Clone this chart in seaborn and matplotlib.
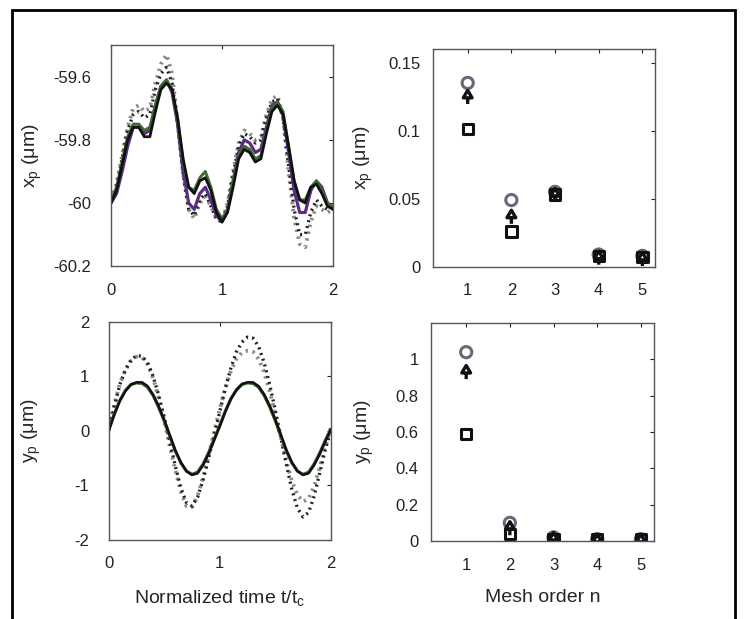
import numpy as np
import pandas as pd
import seaborn as sns
import matplotlib
matplotlib.use("Agg")
import matplotlib.pyplot as plt
from matplotlib.path import Path
from matplotlib.patches import Rectangle
from matplotlib.ticker import FormatStrFormatter

# normalized time grid t/tc (read every 0.05)
t = np.round(np.arange(0, 2.0001, 0.05), 2)

# x_p (um) traces
xp_black = [-60.00, -59.96, -59.88, -59.80, -59.76, -59.76, -59.79, -59.79, -59.71, -59.64,
            -59.62, -59.64, -59.73, -59.86, -59.95, -59.97, -59.93, -59.92, -59.96, -60.03,
            -60.06, -60.03, -59.95, -59.86, -59.83, -59.84, -59.87, -59.86, -59.78, -59.71,
            -59.69, -59.72, -59.82, -59.93, -59.99, -60.00, -59.95, -59.94, -59.97, -60.01, -60.02]
xp_purple = [-60.00, -59.97, -59.90, -59.82, -59.76, -59.76, -59.78, -59.77, -59.69, -59.63,
             -59.61, -59.65, -59.75, -59.90, -60.00, -60.02, -59.97, -59.95, -59.99, -60.04,
             -60.06, -60.02, -59.93, -59.84, -59.80, -59.81, -59.84, -59.83, -59.76, -59.69,
             -59.68, -59.72, -59.84, -59.96, -60.03, -60.03, -59.96, -59.93, -59.95, -60.00, -60.02]
xp_green = [-59.99, -59.95, -59.87, -59.79, -59.75, -59.75, -59.77, -59.76, -59.69, -59.63,
            -59.61, -59.64, -59.74, -59.87, -59.95, -59.96, -59.92, -59.90, -59.95, -60.02,
            -60.05, -60.02, -59.93, -59.85, -59.82, -59.83, -59.86, -59.85, -59.77, -59.70,
            -59.68, -59.71, -59.82, -59.93, -59.99, -59.99, -59.95, -59.93, -59.96, -60.00, -60.01]
xp_dot_black = [-60.00, -59.95, -59.86, -59.77, -59.72, -59.71, -59.73, -59.72, -59.64, -59.59,
                -59.57, -59.62, -59.75, -59.91, -60.02, -60.04, -59.99, -59.97, -60.01, -60.05,
                -60.06, -60.01, -59.91, -59.82, -59.78, -59.79, -59.81, -59.80, -59.73, -59.68,
                -59.67, -59.73, -59.88, -60.02, -60.10, -60.10, -60.03, -59.99, -60.01, -60.02, -60.01]
xp_dot_grey = [-59.99, -59.94, -59.85, -59.76, -59.70, -59.69, -59.71, -59.70, -59.62, -59.56,
               -59.53, -59.59, -59.74, -59.91, -60.02, -60.05, -60.00, -59.98, -60.01, -60.05,
               -60.06, -60.00, -59.90, -59.81, -59.77, -59.78, -59.80, -59.79, -59.72, -59.67,
               -59.66, -59.73, -59.90, -60.05, -60.13, -60.14, -60.06, -60.01, -60.02, -60.03, -60.02]

# y_p (um) traces
yp_black = [0.00, 0.30, 0.55, 0.73, 0.85, 0.89, 0.89, 0.82, 0.66, 0.45,
            0.20, -0.08, -0.36, -0.58, -0.74, -0.81, -0.78, -0.63, -0.42, -0.17,
            0.08, 0.35, 0.58, 0.75, 0.86, 0.89, 0.89, 0.82, 0.67, 0.46,
            0.21, -0.07, -0.35, -0.58, -0.74, -0.81, -0.78, -0.63, -0.43, -0.20, 0.02]
yp_green = [0.02, 0.31, 0.56, 0.74, 0.85, 0.88, 0.87, 0.80, 0.65, 0.43,
            0.18, -0.10, -0.37, -0.59, -0.74, -0.80, -0.76, -0.61, -0.40, -0.15,
            0.10, 0.36, 0.59, 0.75, 0.85, 0.88, 0.87, 0.80, 0.65, 0.44,
            0.19, -0.09, -0.37, -0.59, -0.74, -0.80, -0.76, -0.61, -0.41, -0.18, 0.03]
yp_dot_black = [0.00, 0.45, 0.85, 1.12, 1.30, 1.38, 1.37, 1.25, 1.00, 0.65,
                0.25, -0.20, -0.65, -1.05, -1.32, -1.38, -1.22, -0.90, -0.50, -0.08,
                0.35, 0.78, 1.15, 1.45, 1.63, 1.72, 1.70, 1.55, 1.25, 0.85,
                0.38, -0.12, -0.62, -1.08, -1.42, -1.58, -1.50, -1.20, -0.78, -0.35, 0.00]
yp_dot_grey = [0.05, 0.48, 0.86, 1.12, 1.28, 1.36, 1.35, 1.22, 0.97, 0.60,
               0.18, -0.28, -0.72, -1.12, -1.38, -1.40, -1.20, -0.85, -0.45, -0.02,
               0.40, 0.78, 1.10, 1.32, 1.44, 1.47, 1.45, 1.32, 1.08, 0.72,
               0.30, -0.12, -0.55, -0.92, -1.18, -1.30, -1.25, -1.02, -0.68, -0.30, 0.05]

# amplitude vs mesh order
mesh_n = [1, 2, 3, 4, 5]
ax_circle = [0.135, 0.049, 0.055, 0.009, 0.008]
ax_triangle = [0.126, 0.038, 0.054, 0.008, 0.007]
ax_square = [0.101, 0.026, 0.053, 0.008, 0.007]
ay_circle = [1.04, 0.10, 0.02, 0.01, 0.01]
ay_triangle = [0.94, 0.08, 0.02, 0.01, 0.01]
ay_square = [0.59, 0.04, 0.01, 0.01, 0.01]

sns.set_style("white")
plt.rcParams['font.family'] = ['Liberation Sans', 'DejaVu Sans']
plt.rcParams['axes.unicode_minus'] = False

fig = plt.figure(figsize=(7.5, 6.19), dpi=100)
ax1 = fig.add_axes([0.148, 0.570, 0.296, 0.357])
ax2 = fig.add_axes([0.577, 0.569, 0.297, 0.352])
ax3 = fig.add_axes([0.145, 0.128, 0.296, 0.352])
ax4 = fig.add_axes([0.575, 0.126, 0.297, 0.352])

dots = (0, (0.6, 1.2))

# top-left: x_p
df_x = pd.DataFrame({'t': t, 'black': xp_black, 'purple': xp_purple, 'green': xp_green,
                     'dot_black': xp_dot_black, 'dot_grey': xp_dot_grey})
sns.lineplot(data=df_x, x='t', y='dot_grey', ax=ax1, color='#8a8a8a', lw=2.8, linestyle=dots)
sns.lineplot(data=df_x, x='t', y='dot_black', ax=ax1, color='#222222', lw=2.4, linestyle=dots)
sns.lineplot(data=df_x, x='t', y='purple', ax=ax1, color='#5a2d82', lw=2.3)
sns.lineplot(data=df_x, x='t', y='green', ax=ax1, color='#3f6b32', lw=2.1)
sns.lineplot(data=df_x, x='t', y='black', ax=ax1, color='#111111', lw=2.0)
ax1.set_xlim(0, 2)
ax1.set_ylim(-60.2, -59.5)
ax1.set_yticks([-60.2, -60.0, -59.8, -59.6])
ax1.set_xticks([0, 1, 2])
ax1.set_ylabel(r'x$_\mathregular{p}$ ($\mathregular{\mu}$m)')
ax1.set_xlabel('')

# bottom-left: y_p
df_y = pd.DataFrame({'t': t, 'black': yp_black, 'green': yp_green,
                     'dot_black': yp_dot_black, 'dot_grey': yp_dot_grey})
sns.lineplot(data=df_y, x='t', y='dot_grey', ax=ax3, color='#8a8a8a', lw=2.8, linestyle=dots)
sns.lineplot(data=df_y, x='t', y='dot_black', ax=ax3, color='#222222', lw=2.4, linestyle=dots)
sns.lineplot(data=df_y, x='t', y='green', ax=ax3, color='#3f6b32', lw=2.3)
sns.lineplot(data=df_y, x='t', y='black', ax=ax3, color='#111111', lw=1.8)
ax3.set_xlim(0, 2)
ax3.set_ylim(-2, 2)
ax3.set_yticks([-2, -1, 0, 1, 2])
ax3.set_xticks([0, 1, 2])
ax3.set_ylabel(r'y$_\mathregular{p}$ ($\mathregular{\mu}$m)')
ax3.set_xlabel(r'Normalized time t/t$_\mathregular{c}$')

# triangle with a short stem below
tri_stem = Path([(0, 0.55), (-0.5, -0.3), (0.5, -0.3), (0, 0.55), (0, -0.3), (0, -1.0)],
                [Path.MOVETO, Path.LINETO, Path.LINETO, Path.CLOSEPOLY, Path.MOVETO, Path.LINETO])

def mesh_panel(ax, circ, tri, sq):
    sns.scatterplot(x=mesh_n, y=circ, ax=ax, marker='o', s=65, facecolor='none',
                    edgecolor='#6e6578', linewidth=2.2)
    sns.scatterplot(x=mesh_n, y=tri, ax=ax, marker=tri_stem, s=160, facecolor='none',
                    edgecolor='#111111', linewidth=2.4)
    sns.scatterplot(x=mesh_n, y=sq, ax=ax, marker='s', s=55, facecolor='none',
                    edgecolor='#111111', linewidth=2.2)
    ax.set_xlim(0.2, 5.3)
    ax.set_xticks(mesh_n)

mesh_panel(ax2, ax_circle, ax_triangle, ax_square)
ax2.set_ylim(0, 0.16)
ax2.set_yticks([0, 0.05, 0.1, 0.15])
ax2.set_ylabel(r'x$_\mathregular{p}$ ($\mathregular{\mu}$m)')

mesh_panel(ax4, ay_circle, ay_triangle, ay_square)
ax4.set_ylim(0, 1.2)
ax4.set_yticks([0, 0.2, 0.4, 0.6, 0.8, 1.0])
ax4.set_ylabel(r'y$_\mathregular{p}$ ($\mathregular{\mu}$m)')
ax4.set_xlabel('Mesh order n')

for ax in [ax1, ax2, ax3, ax4]:
    ax.yaxis.set_major_formatter(FormatStrFormatter('%g'))
    ax.tick_params(direction='in', top=True, right=True, length=3, width=0.8,
                   labelsize=12, colors='#222222')
    ax.tick_params(axis='x', pad=12)
    for sp in ax.spines.values():
        sp.set_color('#5a5060')
        sp.set_linewidth(1.0)
    ax.xaxis.label.set_size(14)
    ax.yaxis.label.set_size(14)

ax1.tick_params(axis='y', pad=14)
ax3.tick_params(axis='y', pad=14)
ax2.tick_params(axis='y', pad=9)
ax4.tick_params(axis='y', pad=9)

ax1.yaxis.set_label_coords(-0.30, 0.5)
ax3.yaxis.set_label_coords(-0.295, 0.5)
ax2.yaxis.set_label_coords(-0.26, 0.5)
ax4.yaxis.set_label_coords(-0.25, 0.5)
ax3.xaxis.set_label_coords(0.5, -0.223)
ax4.xaxis.set_label_coords(0.5, -0.22)

# scanned page frame
fig.add_artist(Rectangle((12 / 750, -0.01), (735 - 12) / 750, 1 - 10 / 619 + 0.01,
                         transform=fig.transFigure, fill=False, edgecolor='black', lw=2))

fig.savefig('out.png', dpi=100)
